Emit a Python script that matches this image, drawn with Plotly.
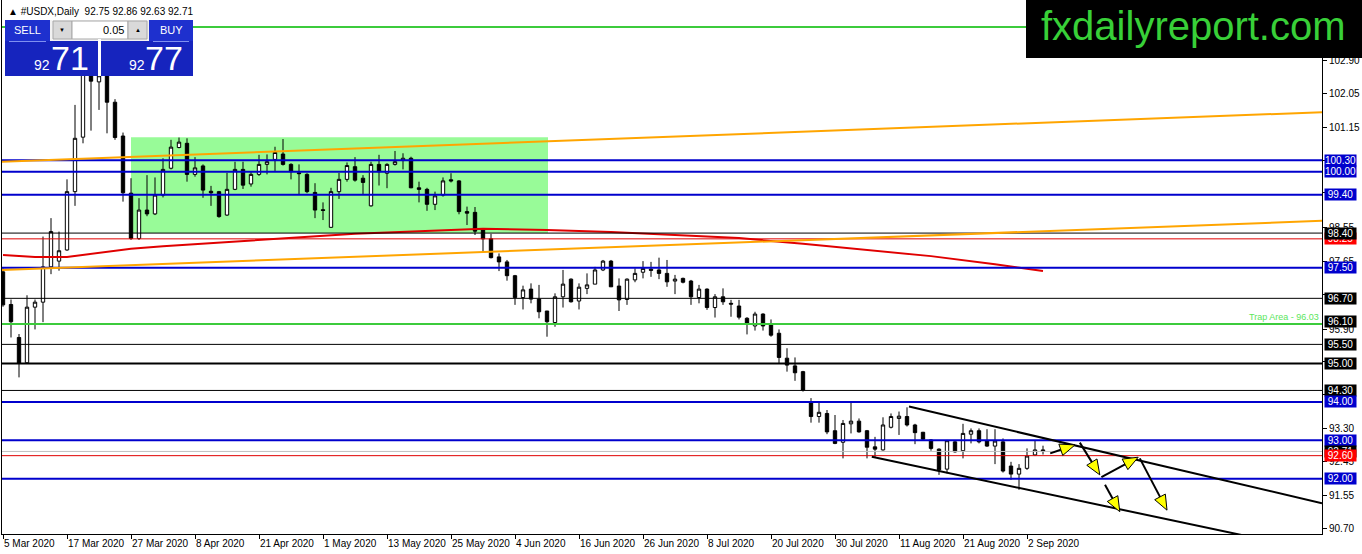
import math
import plotly.graph_objects as go

# ---------------- data ----------------
opens = [97.39, 96.54, 95.68, 95.02, 96.47, 96.60, 97.52, 97.67, 97.96, 99.48,
         100.90, 102.75, 102.34, 102.50, 101.81, 100.93, 99.44, 98.26, 99.00, 98.90,
         99.39, 100.09, 100.63, 100.74, 99.93, 100.15, 99.49, 99.48, 98.87, 99.54,
         100.06, 99.68, 99.93, 100.19, 100.32, 100.46, 100.19, 99.97, 99.93, 99.46,
         99.01, 98.55, 99.48, 99.80, 100.13, 99.83, 99.11, 100.19, 99.96, 100.19,
         100.29, 100.35, 99.58, 99.54, 99.15, 99.39, 99.79, 99.76, 98.96, 98.94,
         98.48, 98.25, 97.78, 97.65, 97.29, 96.72, 96.94, 96.68, 96.37, 96.07,
         96.74, 97.20, 96.63, 96.96, 97.07, 97.44, 97.67, 97.02, 96.67, 97.18,
         97.38, 97.46, 97.44, 97.35, 97.15, 97.22, 97.15, 96.72, 96.94, 96.46,
         96.74, 96.57, 96.50, 96.18, 95.98, 96.29, 96.03, 95.79, 95.14, 94.94,
         94.79, 93.98, 93.62, 93.70, 93.25, 92.95, 93.43, 93.50, 93.25, 92.83,
         92.75, 93.34, 93.57, 93.62, 93.40, 93.21, 93.01, 92.77, 92.25, 92.96,
         92.73, 93.16, 93.25, 92.99, 92.85, 92.96, 92.33, 92.12, 92.27, 92.62,
         92.75]
highs = [97.48, 96.67, 95.77, 96.78, 96.67, 98.31, 98.79, 98.44, 99.80, 101.74,
         102.95, 103.00, 102.80, 102.62, 101.89, 101.02, 99.83, 99.31, 99.91, 99.85,
         100.35, 100.83, 100.89, 100.87, 100.38, 100.19, 99.63, 99.50, 99.97, 100.26,
         100.26, 100.00, 100.44, 100.45, 100.65, 100.85, 100.22, 100.19, 99.96, 99.70,
         99.20, 99.58, 99.97, 100.24, 100.38, 99.91, 100.26, 100.44, 100.22, 100.54,
         100.48, 100.39, 99.74, 99.58, 99.48, 99.85, 99.96, 99.78, 99.09, 99.08,
         98.52, 98.38, 97.87, 97.70, 97.31, 97.03, 97.09, 97.05, 96.37, 96.83,
         97.44, 97.22, 97.09, 97.35, 97.52, 97.70, 97.70, 97.22, 97.22, 97.48,
         97.67, 97.65, 97.76, 97.70, 97.31, 97.24, 97.18, 97.05, 96.96, 96.81,
         96.96, 96.66, 96.66, 96.21, 96.35, 96.31, 96.15, 95.89, 95.40, 95.16,
         94.81, 94.10, 93.98, 93.79, 93.66, 93.53, 93.98, 93.57, 93.27, 93.09,
         93.60, 93.70, 93.75, 93.86, 93.43, 93.22, 93.03, 92.79, 93.01, 92.99,
         93.43, 93.31, 93.31, 93.29, 93.29, 93.05, 92.44, 92.38, 92.79, 92.99,
         92.86]
lows = [96.48, 95.68, 94.64, 95.00, 95.89, 96.08, 97.33, 97.42, 97.94, 99.11,
        100.74, 101.07, 101.61, 101.00, 100.83, 99.22, 98.22, 98.22, 98.84, 98.87,
        99.33, 100.06, 100.61, 99.74, 99.87, 99.32, 99.11, 98.80, 98.85, 99.52,
        99.55, 99.61, 99.89, 99.93, 100.02, 100.16, 99.80, 99.41, 99.44, 98.79,
        98.74, 98.54, 99.29, 99.74, 99.74, 99.41, 99.09, 99.64, 99.57, 100.16,
        100.06, 99.57, 99.20, 98.98, 99.00, 99.35, 99.72, 98.89, 98.61, 98.35,
        97.92, 97.74, 97.41, 97.16, 96.53, 96.41, 96.57, 96.18, 95.70, 95.96,
        96.46, 96.59, 96.41, 96.81, 97.07, 97.41, 97.00, 96.37, 96.53, 97.12,
        97.22, 97.26, 97.20, 97.00, 96.81, 97.09, 96.53, 96.57, 96.40, 96.20,
        96.53, 96.22, 96.15, 95.76, 95.86, 95.86, 95.70, 95.01, 94.79, 94.55,
        94.27, 93.46, 93.46, 93.16, 92.90, 92.53, 93.18, 93.20, 92.53, 92.57,
        92.73, 93.31, 93.14, 93.36, 92.90, 92.99, 92.73, 92.10, 92.14, 92.68,
        92.53, 92.92, 92.92, 92.83, 92.38, 92.16, 91.97, 91.71, 92.23, 92.59,
        92.63]
closes = [96.53, 96.09, 95.01, 96.47, 96.60, 97.52, 98.44, 97.94, 99.48, 100.87,
          102.75, 102.36, 102.50, 101.81, 100.89, 99.45, 98.26, 99.00, 98.90, 99.39,
          100.06, 100.64, 100.77, 99.93, 100.10, 99.52, 99.45, 98.83, 99.54, 100.06,
          99.65, 99.93, 100.19, 100.26, 100.50, 100.19, 100.00, 99.95, 99.48, 99.00,
          98.99, 99.48, 99.80, 100.16, 99.78, 99.72, 100.19, 100.00, 100.19, 100.26,
          100.35, 99.58, 99.54, 99.15, 99.37, 99.76, 99.76, 98.96, 98.92, 98.45,
          98.25, 97.76, 97.65, 97.29, 96.72, 96.92, 96.68, 96.35, 96.09, 96.74,
          97.07, 96.61, 96.99, 97.05, 97.44, 97.67, 97.00, 96.66, 97.20, 97.35,
          97.48, 97.43, 97.35, 97.13, 97.20, 97.12, 96.74, 96.94, 96.46, 96.74,
          96.61, 96.55, 96.21, 96.05, 96.29, 95.98, 95.74, 95.16, 94.96, 94.76,
          94.31, 93.62, 93.73, 93.22, 92.92, 93.44, 93.50, 93.22, 92.82, 92.77,
          93.40, 93.62, 93.63, 93.40, 93.20, 93.03, 92.79, 92.23, 92.99, 92.70,
          93.18, 93.25, 92.96, 92.85, 92.98, 92.20, 92.12, 92.27, 92.59, 92.75,
          92.71]

date_labels = ["5 Mar 2020", "17 Mar 2020", "27 Mar 2020", "8 Apr 2020", "21 Apr 2020",
               "1 May 2020", "13 May 2020", "25 May 2020", "4 Jun 2020", "16 Jun 2020",
               "26 Jun 2020", "8 Jul 2020", "20 Jul 2020", "30 Jul 2020", "11 Aug 2020",
               "21 Aug 2020", "2 Sep 2020"]
bars_per_label = 8

price_ticks = [102.90, 102.05, 101.15, 100.30, 99.45, 98.55, 97.65, 96.80,
               95.90, 95.05, 94.20, 93.30, 92.45, 91.55, 90.70]
hidden_ticks = [100.30, 99.45, 96.80, 95.05, 94.20]

ma_bars = [0, 4, 8, 12, 16, 20, 28, 36, 44, 52, 60, 68, 76, 84, 92, 100, 108, 116, 124, 130]
ma_values = [97.83, 97.78, 97.78, 97.88, 97.99, 98.06, 98.17, 98.27, 98.38, 98.45,
             98.51, 98.48, 98.43, 98.35, 98.27, 98.12, 97.96, 97.80, 97.59, 97.41]

blue_levels = [100.30, 100.00, 99.40, 97.50, 94.00, 93.00, 92.00]
black_levels = [98.40, 96.70, 95.50, 94.30]
thick_black_levels = [95.00]
red_levels = [98.25, 92.60]
green_levels = [103.77, 96.03]
bid_price = 92.71
ask_price = 92.77
lot_size = "0.05"
trap_label = "Trap Area - 96.03"
trap_level = 96.03

zone_bars = [16, 68.125]
zone_prices = [98.40, 100.90]

orange_upper_bars = [-0.125, 164.875]
orange_upper_prices = [100.26, 101.55]
orange_lower_bars = [-0.125, 164.875]
orange_lower_prices = [97.44, 98.72]

channel_upper_bars = [113.25, 164.875]
channel_upper_prices = [93.88, 91.36]
channel_lower_bars = [108.6, 164.875]
channel_lower_prices = [92.57, 90.09]

arrow_start_bars = [130.9, 134.6, 137.3, 137.75, 142.1]
arrow_start_prices = [92.66, 92.94, 92.04, 91.84, 92.53]
arrow_end_bars = [134.0, 137.1, 141.9, 139.6, 145.5]
arrow_end_prices = [92.88, 92.10, 92.56, 91.14, 91.18]

axis_label_values = ["100.30", "100.00", "99.40", "98.25", "98.40", "97.50", "96.70",
                     "96.10", "95.50", "95.00", "94.30", "94.00", "93.00", "92.71",
                     "92.60", "92.00"]
axis_label_kinds = ["blue", "blue", "blue", "red", "black", "blue", "black",
                    "black", "black", "black", "black", "blue", "blue", "black",
                    "red", "blue"]

# ---------------- styling / geometry ----------------
W_FIG, H_FIG = 1362, 554
ML, MR, MT, MB = 2, 40, 0, 20
PW = W_FIG - ML - MR
PH = H_FIG - MT - MB
X_RANGE = [-0.125, 164.875]
Y_RANGE = [90.559, 104.474]
SX = PW / (X_RANGE[1] - X_RANGE[0])
SY = PH / (Y_RANGE[1] - Y_RANGE[0])

BLUE = "#0000CD"
FONT = "Liberation Sans"
kind_color = {"blue": BLUE, "black": "#000000", "red": "#FF0000"}


def px(x):
    return (x - ML) / PW


def py(y):
    return (MT + PH - y) / PH


bars = list(range(len(opens)))
fig = go.Figure()

fig.add_trace(go.Candlestick(
    x=bars, open=opens, high=highs, low=lows, close=closes,
    increasing=dict(line=dict(color="black", width=1), fillcolor="white"),
    decreasing=dict(line=dict(color="black", width=1), fillcolor="black"),
    whiskerwidth=0, hoverinfo="skip", showlegend=False))

fig.add_trace(go.Scatter(x=ma_bars, y=ma_values, mode="lines",
                         line=dict(color="#E00000", width=2), hoverinfo="skip",
                         showlegend=False))

shapes = []
# green zone
shapes.append(dict(type="rect", xref="x", yref="y", x0=zone_bars[0], x1=zone_bars[1],
                   y0=zone_prices[0], y1=zone_prices[1], fillcolor="#98FB98",
                   line=dict(width=0), layer="below"))


def hline(v, color, width):
    return dict(type="line", xref="paper", yref="y", x0=0, x1=1, y0=v, y1=v,
                line=dict(color=color, width=width))


shapes.append(hline(bid_price, "#C0C0C0", 1))
for v in black_levels:
    shapes.append(hline(v, "#000000", 1))
for v in thick_black_levels:
    shapes.append(hline(v, "#000000", 2))
for v in red_levels:
    shapes.append(hline(v, "#E00000", 1))
for v in blue_levels:
    shapes.append(hline(v, BLUE, 2))
for v in green_levels:
    shapes.append(hline(v, "#3CCB3C", 2))


def seg(xs, ys, color, width):
    return dict(type="line", xref="x", yref="y", x0=xs[0], x1=xs[1], y0=ys[0], y1=ys[1],
                line=dict(color=color, width=width))


shapes.append(seg(orange_upper_bars, orange_upper_prices, "#FFA500", 2))
shapes.append(seg(orange_lower_bars, orange_lower_prices, "#FFA500", 2))
shapes.append(seg(channel_upper_bars, channel_upper_prices, "#000000", 2))
shapes.append(seg(channel_lower_bars, channel_lower_prices, "#000000", 2))

# arrows
HEAD_LEN, HEAD_HALF = 15, 6
for x0, y0, x1, y1 in zip(arrow_start_bars, arrow_start_prices, arrow_end_bars, arrow_end_prices):
    dx, dy = (x1 - x0) * SX, (y1 - y0) * SY
    d = math.hypot(dx, dy)
    ux, uy = dx / d, dy / d
    nx, ny = -uy, ux
    bx, by = -ux * HEAD_LEN, -uy * HEAD_LEN
    shapes.append(dict(type="line", xref="x", yref="y", x0=x0, y0=y0,
                       x1=x1 + bx / SX, y1=y1 + by / SY,
                       line=dict(color="black", width=2)))
    p2 = (x1 + (bx + nx * HEAD_HALF) / SX, y1 + (by + ny * HEAD_HALF) / SY)
    p3 = (x1 + (bx - nx * HEAD_HALF) / SX, y1 + (by - ny * HEAD_HALF) / SY)
    path = f"M {x1},{y1} L {p2[0]},{p2[1]} L {p3[0]},{p3[1]} Z"
    shapes.append(dict(type="path", xref="x", yref="y", path=path,
                       fillcolor="#FFFF00", line=dict(color="black", width=1)))


def prect(x0, y0, x1, y1, fill, line_color=None):
    return dict(type="rect", xref="paper", yref="paper", x0=px(x0), x1=px(x1),
                y0=py(y1), y1=py(y0), fillcolor=fill,
                line=dict(width=1 if line_color else 0, color=line_color or fill))


# trade panel
shapes.append(prect(5, 20, 50, 41, "#1E30CE"))
shapes.append(prect(149, 20, 193, 41, "#1E30CE"))
shapes.append(prect(50, 20, 149, 41, "#F2F2F2"))
shapes.append(prect(53, 21, 72, 39, "#D9D9D9", "#A8A8A8"))
shapes.append(prect(72, 21, 128, 39, "#FFFFFF", "#A8A8A8"))
shapes.append(prect(128, 21, 147, 39, "#D9D9D9", "#A8A8A8"))
shapes.append(prect(5, 41, 98, 76, "#1624BE"))
shapes.append(prect(101, 41, 193, 76, "#1624BE"))
shapes.append(prect(98, 39, 101, 76, "#FFFFFF"))
shapes.append(dict(type="line", xref="paper", yref="paper", x0=px(9), x1=px(46),
                   y0=py(41.5), y1=py(41.5), line=dict(color="#8090F0", width=1)))
shapes.append(dict(type="line", xref="paper", yref="paper", x0=px(153), x1=px(189),
                   y0=py(41.5), y1=py(41.5), line=dict(color="#8090F0", width=1)))
# logo box
shapes.append(prect(1026, 0, 1362, 58, "#000000"))

annotations = []


def ptext(x, y, text, size, color, xanchor="center", family=FONT):
    annotations.append(dict(xref="paper", yref="paper", x=px(x), y=py(y), text=text,
                            showarrow=False, xanchor=xanchor, yanchor="middle",
                            font=dict(family=family, size=size, color=color)))


ptext(6, 11, f"▲ #USDX,Daily\u00a0\u00a0{opens[-1]:.2f} {highs[-1]:.2f} {lows[-1]:.2f} {closes[-1]:.2f}",
      10, "#000000", xanchor="left")
ptext(27.5, 30.5, "SELL", 11, "white")
ptext(171, 30.5, "BUY", 11, "white")
ptext(126, 30.5, lot_size, 11, "black", xanchor="right")
ptext(62.5, 30.5, "▼", 6, "black")
ptext(137.5, 30.5, "▲", 6, "black")
bid_big, bid_small = f"{bid_price:.2f}".split(".")
ask_big, ask_small = f"{ask_price:.2f}".split(".")
ptext(41.5, 65, bid_big, 14, "white")
ptext(70, 58, bid_small, 34, "white")
ptext(136.5, 65, ask_big, 14, "white")
ptext(163.5, 58, ask_small, 34, "white")
ptext(1193, 26, "fxdailyreport.com", 40, "#38D038")

annotations.append(dict(xref="paper", yref="y", x=px(1321), y=trap_level, text=trap_label,
                        showarrow=False, xanchor="right", yanchor="bottom", yshift=0,
                        font=dict(family=FONT, size=9, color="#5CE65C")))

for val, kind in zip(axis_label_values, axis_label_kinds):
    annotations.append(dict(xref="paper", yref="y", x=px(1324), y=float(val), text=val,
                            showarrow=False, xanchor="left", yanchor="middle",
                            width=31, height=11, borderpad=0, bgcolor=kind_color[kind],
                            font=dict(family=FONT, size=10, color="white")))

fig.update_layout(
    template="none",
    width=W_FIG, height=H_FIG,
    margin=dict(l=ML, r=MR, t=MT, b=MB, pad=0),
    paper_bgcolor="white", plot_bgcolor="white",
    showlegend=False, boxgap=0.4,
    shapes=shapes, annotations=annotations,
    xaxis=dict(range=X_RANGE, showgrid=False, zeroline=False, rangeslider=dict(visible=False),
               tickmode="array", tickvals=[bars_per_label * k for k in range(len(date_labels))],
               ticktext=date_labels, ticks="outside", ticklen=4, tickcolor="black",
               ticklabelposition="outside right", tickangle=0,
               showline=True, linecolor="black", linewidth=1, automargin=False,
               tickfont=dict(family=FONT, size=10, color="black"), fixedrange=True),
    yaxis=dict(range=Y_RANGE, side="right", showgrid=False, zeroline=False,
               tickmode="array", tickvals=price_ticks,
               ticktext=["" if v in hidden_ticks else f"{v:.2f}" for v in price_ticks],
               ticks="outside", ticklen=4, tickcolor="black",
               showline=True, linecolor="black", linewidth=1, mirror=True, automargin=False,
               tickfont=dict(family=FONT, size=10, color="black"), fixedrange=True),
)

fig.write_html("out.html", config={"displayModeBar": False},
               post_script="document.body.style.margin='0';document.body.style.overflow='hidden';")
